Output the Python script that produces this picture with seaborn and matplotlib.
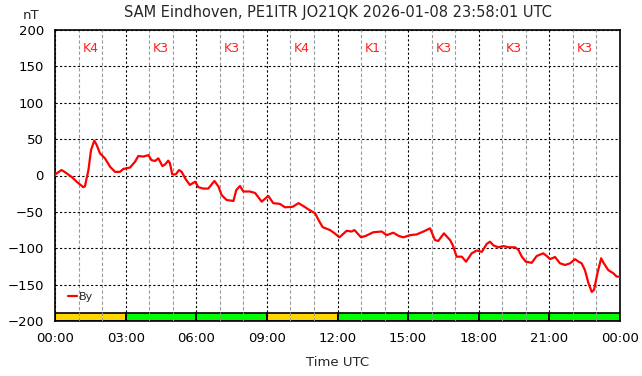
import matplotlib
matplotlib.use("Agg")
import matplotlib.pyplot as plt
import matplotlib.ticker
import seaborn as sns
import pandas as pd

# By component (nT) against hours UTC
hours = [0.0, 0.07, 0.28, 0.45, 0.71, 0.92, 1.2, 1.27, 1.42, 1.53, 1.67, 1.77, 1.91,
         2.12, 2.34, 2.55, 2.76, 2.9, 3.19, 3.4, 3.54, 3.75, 3.97, 4.1, 4.25, 4.39,
         4.56, 4.67, 4.81, 4.88, 4.98, 5.13, 5.27, 5.38, 5.55, 5.73, 5.95, 6.09, 6.3,
         6.51, 6.77, 6.94, 7.08, 7.29, 7.58, 7.7, 7.86, 8.0, 8.28, 8.5, 8.78, 9.06,
         9.27, 9.55, 9.77, 10.1, 10.34, 10.55, 10.76, 11.05, 11.19, 11.37, 11.68,
         11.9, 12.08, 12.39, 12.6, 12.72, 13.0, 13.2, 13.52, 13.88, 14.09, 14.37,
         14.6, 14.8, 15.08, 15.36, 15.65, 15.93, 16.14, 16.28, 16.52, 16.78, 16.9,
         17.06, 17.28, 17.46, 17.7, 17.92, 18.13, 18.34, 18.48, 18.62, 18.83, 19.05,
         19.26, 19.54, 19.68, 19.83, 20.0, 20.25, 20.46, 20.74, 20.9, 21.03, 21.24,
         21.45, 21.67, 21.88, 22.09, 22.24, 22.37, 22.51, 22.66, 22.8, 22.9, 23.04,
         23.2, 23.3, 23.5, 23.72, 23.86, 24.0]
by_nt = [1, 3, 7.5, 4, -2, -8.5, -16, -15, 7.5, 35, 48, 42, 30.5,
         23.6, 12, 5, 5, 9, 11, 19, 26.8, 26, 28, 21, 20, 23.6,
         13, 15, 20.4, 17, 1.6, 1.6, 7.5, 5, -5, -13, -8.5, -16, -18,
         -18, -7.5, -15, -27, -33.7, -35, -20, -14.4, -22, -22, -24, -36, -28,
         -38, -39, -43.7, -43, -38, -42, -46.5, -52, -61, -71, -75,
         -80, -85, -76, -77, -75, -85, -83, -78, -77, -82, -78.6,
         -83, -85, -82, -81, -77, -72.6, -88.7, -90, -79.5, -88.7, -96,
         -111.6, -111.6, -118.5, -107, -103, -105, -94, -91, -96, -98.7, -97,
         -98.7, -98.7, -102, -111.6, -118.5, -120, -110.7, -107, -111, -115, -112,
         -120.7, -123, -120.7, -115, -118.5, -120.7, -130, -148, -160, -157, -134.5,
         -113.8, -120, -130, -134.5, -139, -139]

# planetary K index per 3-hour block
k_start = [0, 3, 6, 9, 12, 15, 18, 21]
k_index = [4, 3, 3, 4, 1, 3, 3, 3]

tick_labels = ["00:00", "03:00", "06:00", "09:00", "12:00", "15:00", "18:00", "21:00", "00:00"]

df = pd.DataFrame({"hour": hours, "By": by_nt})

sns.set_style("white")
plt.rcParams["font.family"] = ["DejaVu Sans"]

fig = plt.figure(figsize=(6.42, 3.76), dpi=100)
ax = fig.add_axes([55 / 642, 55 / 376, 565 / 642, 291 / 376])

# K index bars along the bottom
k_colors = ["#FFD700" if k >= 4 else "#00FF00" for k in k_index]
ax.bar(k_start, [10.5] * len(k_start), width=3, bottom=-200, align="edge",
       color=k_colors, edgecolor="black", linewidth=1.2, zorder=1)
for start, k in zip(k_start, k_index):
    ax.text(start + 1.5, 174, "K%d" % k, color="#FF2020", fontsize=9,
            ha="center", va="center", zorder=4)

sns.lineplot(data=df, x="hour", y="By", color="red", linewidth=1.6,
             label="By", ax=ax, zorder=3)

ax.set_xlim(0, 24)
ax.set_ylim(-200, 200)
ax.xaxis.set_minor_locator(matplotlib.ticker.MultipleLocator(1))
ax.yaxis.set_major_locator(matplotlib.ticker.MultipleLocator(50))
ax.set_xticks(range(0, 25, 3))
ax.set_xticklabels(tick_labels)

ax.grid(which="major", color="black", linestyle=(0, (2, 2)), linewidth=0.8, zorder=2)
ax.grid(which="minor", axis="x", color="#999999", linestyle=(0, (3, 2)), linewidth=0.8, zorder=2)
ax.set_axisbelow(False)

ax.tick_params(which="both", length=0, labelsize=9.5, pad=8, colors="black")
for side in ["left", "right", "top", "bottom"]:
    ax.spines[side].set_visible(True)
    ax.spines[side].set_color("black")
    ax.spines[side].set_linewidth(1.2)

ax.set_xlabel("Time UTC", fontsize=9.5, labelpad=8)
ax.set_ylabel("")
ax.text(-0.042, 1.027, "nT", transform=ax.transAxes, fontsize=9.5, ha="center", va="bottom")
ax.set_title("SAM Eindhoven, PE1ITR JO21QK 2026-01-08 23:58:01 UTC", fontsize=10.5, pad=9)

leg = ax.legend(loc="lower left", bbox_to_anchor=(0.01, 0.04), frameon=False,
                fontsize=8, handlelength=0.8, handletextpad=0.1, borderpad=0.2)

fig.savefig("out.png", dpi=100)
